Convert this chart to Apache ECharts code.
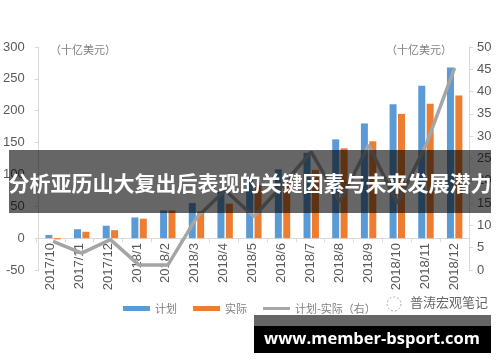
<!DOCTYPE html>
<html>
<head>
<meta charset="utf-8">
<script src="https://cdn.jsdelivr.net/npm/echarts@6/dist/echarts.min.js"></script>
<style>
html,body{margin:0;padding:0;background:#fff;}
#c{width:500px;height:362px;}
</style>
</head>
<body>
<div id="c"></div>
<script>
var categories = ['2017/10','2017/11','2017/12','2018/1','2018/2','2018/3','2018/4','2018/5','2018/6','2018/7','2018/8','2018/9','2018/10','2018/11','2018/12'];
var planValues = [5, 14, 19.5, 32.5, 43.5, 55, 73, 95, 108, 134, 155, 180, 210, 239, 268];
var actualValues = [-2, 10, 12.5, 30.5, 43.5, 42, 54, 83, 89, 107, 141, 152, 195, 211, 224];
var diffValues = [6.4, 3.8, 6.8, 1.1, 1.1, 11.7, 17.9, 12, 19, 26.5, 15.3, 28, 15, 28, 45.3];
var leftTicks = [-50, 0, 50, 100, 150, 200, 250, 300];
var rightTicks = [0, 5, 10, 15, 20, 25, 30, 35, 40, 45, 50];
var seriesNames = ['计划', '实际', '计划-实际（右）'];
var unitLabel = '（十亿美元）';
var titleText = '分析亚历山大复出后表现的关键因素与未来发展潜力';
var logoText = '普涛宏观笔记';
var siteText = 'www.member-bsport.com';

var chart = echarts.init(document.getElementById('c'), null, {renderer: 'canvas'});
var axisGray = '#d9d9d9';
var labelGray = '#595959';
var font = 'Liberation Sans, Arial, sans-serif';
// grid 1 bottom sits exactly at the value 0 of the left axis
var gridTop = 47, gridBottom = 92, H = 362;
var zeroY = gridTop + (H - gridTop - gridBottom) * (leftTicks[leftTicks.length-1] / (leftTicks[leftTicks.length-1] - leftTicks[0]));
chart.setOption({
  animation: false,
  grid: [
    {left: 36, right: 31, top: gridTop, bottom: gridBottom},
    {left: 36, right: 31, top: gridTop, bottom: H - zeroY}
  ],
  legend: {
    left: 118, top: 298,
    itemWidth: 27, itemHeight: 5, itemGap: 16,
    textStyle: {color: '#7f7f7f', fontSize: 11, fontFamily: 'Noto Sans CJK SC'},
    data: [
      {name: seriesNames[0], icon: 'rect'},
      {name: seriesNames[1], icon: 'rect'},
      {name: seriesNames[2], icon: 'path://M0,0 L28,0 L28,3 L0,3 Z', itemStyle: {color: '#A5A5A5'}}
    ]
  },
  xAxis: [
    {
      type: 'category', gridIndex: 0, data: categories, show: false
    },
    {
      type: 'category', gridIndex: 1, data: categories,
      axisLine: {show: true, onZero: false, lineStyle: {color: axisGray, width: 1}},
      axisTick: {show: true, length: 4, lineStyle: {color: axisGray}},
      axisLabel: {rotate: 90, color: labelGray, fontSize: 13, fontFamily: font, margin: 5, interval: 0}
    }
  ],
  yAxis: [
    {
      type: 'value', gridIndex: 0, min: leftTicks[0], max: leftTicks[leftTicks.length-1], interval: 50,
      axisLine: {show: true, lineStyle: {color: axisGray}},
      axisTick: {show: true, length: 4, lineStyle: {color: axisGray}},
      splitLine: {show: false},
      axisLabel: {color: labelGray, fontSize: 13, fontFamily: font, margin: 14}
    },
    {
      type: 'value', gridIndex: 0, min: rightTicks[0], max: rightTicks[rightTicks.length-1], interval: 5,
      position: 'right',
      axisLine: {show: true, lineStyle: {color: axisGray}},
      axisTick: {show: true, length: 4, lineStyle: {color: axisGray}},
      splitLine: {show: false},
      axisLabel: {color: labelGray, fontSize: 13, fontFamily: font, margin: 8}
    },
    {
      type: 'value', gridIndex: 1, show: false, min: 0, max: 1
    }
  ],
  series: [
    {name: seriesNames[0], type: 'bar', xAxisIndex: 0, yAxisIndex: 0, data: planValues, barWidth: 7, barGap: '20%',
     itemStyle: {color: '#5B9BD5'}},
    {name: seriesNames[1], type: 'bar', xAxisIndex: 0, yAxisIndex: 0, data: actualValues, barWidth: 7,
     itemStyle: {color: '#ED7D31'}},
    {name: seriesNames[2], type: 'line', xAxisIndex: 0, yAxisIndex: 1, data: diffValues,
     symbol: 'none', lineStyle: {color: '#A5A5A5', width: 3.5}, itemStyle: {color: '#A5A5A5'}, z: 5}
  ],
  graphic: [
    {type: 'text', left: 50, top: 44, style: {text: unitLabel, fill: '#7f7f7f', font: '11px "Noto Sans CJK SC"'}},
    {type: 'text', left: 386, top: 44, style: {text: unitLabel, fill: '#7f7f7f', font: '11px "Noto Sans CJK SC"'}},
    {type: 'rect', shape: {x: 9, y: 150, width: 482, height: 63}, style: {fill: 'rgba(0,0,0,0.6)'}, z: 100},
    {type: 'text', x: 250, y: 183, z: 101, style: {text: titleText, fill: '#fff', font: 'bold 21px "Noto Sans CJK SC"', align: 'center', verticalAlign: 'middle'}},
    {type: 'circle', shape: {cx: 394, cy: 304, r: 7}, style: {fill: 'none', stroke: '#aaa', lineWidth: 1, lineDash: [2, 2]}, z: 50},
    {type: 'text', left: 410, top: 296, z: 50, style: {text: logoText, fill: '#666', font: '13px "Noto Sans CJK SC"'}},
    {type: 'rect', shape: {x: 254, y: 315, width: 237, height: 11}, style: {fill: '#666'}, z: 100},
    {type: 'rect', shape: {x: 254, y: 326, width: 237, height: 27}, style: {fill: '#000'}, z: 100},
    {type: 'text', x: 372, y: 339, z: 101, style: {text: siteText, fill: '#fff', font: 'bold 16.5px "Open Sans", "DejaVu Sans", sans-serif', align: 'center', verticalAlign: 'middle'}}
  ]
});
</script>
</body>
</html>
